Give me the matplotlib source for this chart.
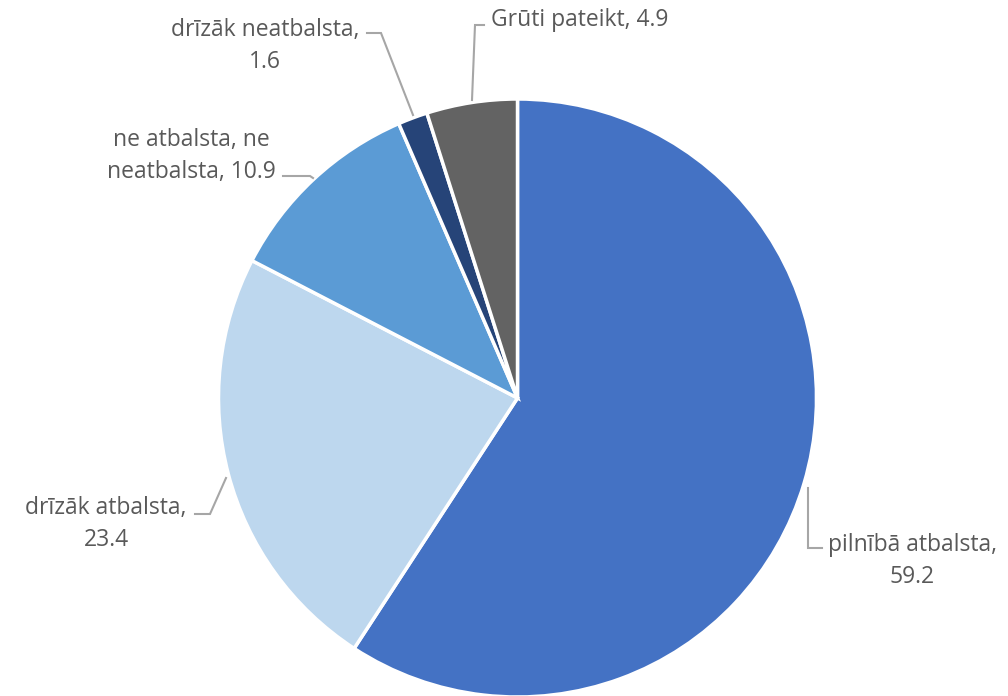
import matplotlib
matplotlib.use("Agg")
import matplotlib.pyplot as plt

categories = ["pilnībā atbalsta", "drīzāk atbalsta", "ne atbalsta, ne neatbalsta",
              "drīzāk neatbalsta", "Grūti pateikt"]
values = [59.2, 23.4, 10.9, 1.6, 4.9]
colors = ["#4472C4", "#BDD7EE", "#5B9BD5", "#264478", "#636363"]
label_texts = ["pilnībā atbalsta,\n59.2", "drīzāk atbalsta,\n23.4",
               "ne atbalsta, ne\nneatbalsta, 10.9", "drīzāk neatbalsta,\n1.6",
               "Grūti pateikt, 4.9"]

W, H = 1008, 696
fig = plt.figure(figsize=(W / 100, H / 100), dpi=100)
ax = fig.add_axes([0, 0, 1, 1])
ax.set_xlim(0, W)
ax.set_ylim(0, H)
ax.set_aspect("equal")
ax.axis("off")

cx, cy, r = 517.5, H - 398, 299
ax.pie(values, colors=colors, startangle=90, counterclock=False,
       center=(cx, cy), radius=r, frame=True,
       wedgeprops=dict(edgecolor="white", linewidth=2.5))
ax.set_xlim(0, W)
ax.set_ylim(0, H)
ax.axis("off")

tc = "#595959"
lc = "#A6A6A6"
fs = 16.5
fam = ["Open Sans", "DejaVu Sans"]

def P(x, y):
    return x, H - y

specs = [
    (label_texts[0], (912, 561), "center", [(822, 548), (808, 548), (808, 488)]),
    (label_texts[1], (106, 524), "center", [(195, 514), (210, 514), (226, 478)]),
    (label_texts[2], (191, 156), "center", [(283, 176), (310, 176), (313, 178)]),
    (label_texts[3], (265, 46), "center", [(367, 33), (381, 33), (413, 115)]),
    (label_texts[4], (491, 20), "left", [(484, 25), (475, 25), (472, 100)]),
]
for txt, (x, y), ha, line in specs:
    px, py = P(x, y)
    ax.text(px, py, txt, ha=ha, va="center", fontsize=fs, color=tc,
            family=fam, linespacing=1.45)
    xs = [p[0] for p in line]
    ys = [H - p[1] for p in line]
    ax.plot(xs, ys, color=lc, lw=1.5, solid_joinstyle="miter")

fig.savefig("out.png", dpi=100)
